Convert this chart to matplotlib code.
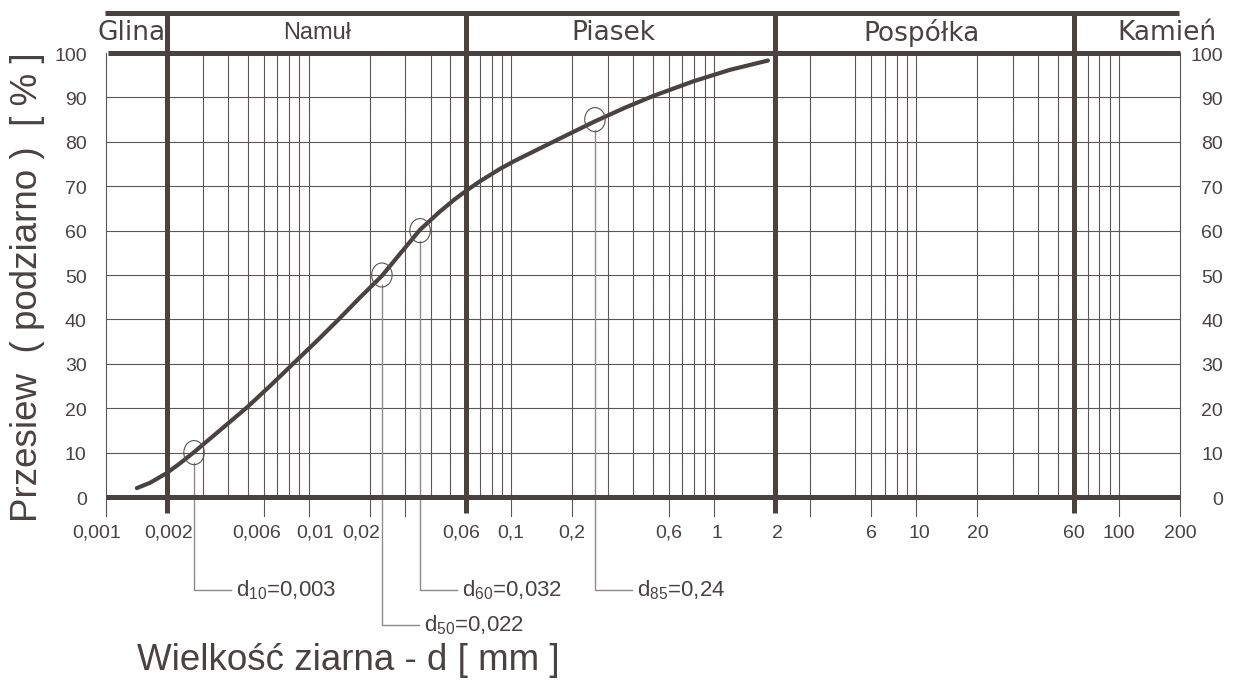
import matplotlib.pyplot as plt
import numpy as np
from matplotlib.path import Path
from matplotlib.transforms import Affine2D

plt.rcParams['font.family'] = ['Liberation Sans', 'DejaVu Sans']
plt.rcParams['mathtext.fontset'] = 'custom'
plt.rcParams['mathtext.rm'] = 'Liberation Sans'

# grain size distribution curve
size_mm = [0.00142, 0.00165, 0.00198, 0.00232, 0.00272, 0.00369, 0.00497, 0.00645,
           0.00838, 0.0109, 0.0140, 0.0179, 0.0230, 0.0283, 0.0355, 0.0445, 0.0528,
           0.0605, 0.0701, 0.0880, 0.104, 0.147, 0.202, 0.259, 0.361, 0.501, 0.790,
           1.20, 1.85]
passing = [2.0, 3.2, 5.3, 7.6, 10.1, 15.2, 20.2, 25.0,
           30.0, 35.0, 39.9, 44.9, 49.8, 54.8, 60.2, 64.3, 67.1,
           69.1, 71.1, 73.9, 75.7, 79.1, 82.2, 84.6, 87.6, 90.3, 93.6,
           96.2, 98.3]

# characteristic diameters
d_marker_x = [0.00272, 0.0230, 0.0355, 0.259]
d_marker_y = [10, 50, 60, 85]
d_labels = [r"d$_{10}$=0,003", r"d$_{50}$=0,022", r"d$_{60}$=0,032", r"d$_{85}$=0,24"]
d_label_row = [0, 1, 0, 0]

# fractions
fraction_names = ["Glina", "Namuł", "Piasek", "Pospółka", "Kamień"]
fraction_bounds = [0.002, 0.06, 2, 60]

# axis
x_tick_vals = [0.001, 0.002, 0.006, 0.01, 0.02, 0.06, 0.1, 0.2, 0.6, 1, 2, 6, 10, 20, 60, 100, 200]
x_tick_text = ["0,001", "0,002", "0,006", "0,01", "0,02", "0,06", "0,1", "0,2", "0,6", "1",
               "2", "6", "10", "20", "60", "100", "200"]
x_tick_nudge = [-7, 1, -5, 5, -6, -4, 0, 0, 0, 2, 2, 0, 2, 0, 0, 0, 0]  # points
x_short_ticks = [0.03, 3]
grid_x = [0.003, 0.004, 0.005, 0.006, 0.007, 0.008, 0.009, 0.01, 0.02, 0.03, 0.04, 0.05,
          0.07, 0.08, 0.09, 0.1, 0.2, 0.3, 0.4, 0.5, 0.6, 0.7, 0.8, 0.9, 1,
          3, 5, 6, 7, 8, 9, 10, 20, 30, 40, 50, 70, 80, 90, 100]
y_ticks = [0, 10, 20, 30, 40, 50, 60, 70, 80, 90, 100]

dark = '#4a4141'
grid_c = '#5e5656'
lead_c = '#8f8989'

W, H = 1234, 693
fig = plt.figure(figsize=(W / 100, H / 100), dpi=100)
ax = fig.add_axes([106 / W, 1 - 497 / H, 1074 / W, 444 / H])
ax.set_xscale('log')
ax.set_xlim(0.001, 200)
ax.set_ylim(0, 100)
ax.axis('off')

xmin, xmax = 0.001, 200
top_band = 109.0
tick_low = -4.2

# thin grid
for x in grid_x:
    ax.plot([x, x], [0, 100], color=grid_c, lw=0.8, zorder=1)
for y in y_ticks[1:-1]:
    ax.plot([xmin, xmax], [y, y], color=grid_c, lw=0.8, zorder=1)

# edges and ticks below the axis
for x in [xmin, xmax]:
    ax.plot([x, x], [tick_low, 100], color=grid_c, lw=0.8, clip_on=False, zorder=1)
for x in x_tick_vals[1:-1] + x_short_ticks:
    if x not in fraction_bounds:
        ax.plot([x, x], [tick_low, 0], color=grid_c, lw=0.8, clip_on=False, zorder=1)

# heavy frame lines
ax.plot([xmin, xmax], [0, 0], color=dark, lw=3.6, solid_capstyle='butt', clip_on=False, zorder=3)
ax.plot([xmin * 1.02, xmax], [100, 100], color=dark, lw=3.6, solid_capstyle='butt', clip_on=False, zorder=3)
ax.plot([xmin * 0.985, xmax * 0.985], [top_band, top_band], color=dark, lw=3.6,
        solid_capstyle='butt', clip_on=False, zorder=3)
for x in fraction_bounds:
    ax.plot([x, x], [-3.6, top_band], color=dark, lw=3.6, solid_capstyle='butt',
            clip_on=False, zorder=3)

# fraction names
band_y = 104.6
wide = dict(fontsize=19, family='DejaVu Sans', color=dark, va='center', clip_on=False)
ax.text(0.00196, band_y, fraction_names[0], ha='right', **wide)
ax.text(np.sqrt(0.002 * 0.06), band_y, fraction_names[1], ha='center', va='center', fontsize=17,
        family='Liberation Sans', color=dark, clip_on=False)
ax.text(0.32, band_y, fraction_names[2], ha='center', **wide)
ax.text(np.sqrt(2 * 60) * 0.97, band_y, fraction_names[3], ha='center', **wide)
ax.text(172, band_y, fraction_names[4], ha='center', **wide)

# y tick labels both sides
for y in y_ticks:
    ax.text(-0.018, y - 0.7, str(y), transform=ax.get_yaxis_transform(), ha='right', va='center',
            fontsize=14, color=dark)
    ax.text(1.040, y - 0.7, str(y), transform=ax.get_yaxis_transform(), ha='right', va='center',
            fontsize=14, color=dark)

# x tick labels
for x, t, n in zip(x_tick_vals, x_tick_text, x_tick_nudge):
    ax.annotate(t, (x, -8.2), xytext=(n, 0), textcoords='offset points', ha='center',
                va='center', fontsize=14, color=dark, annotation_clip=False)

# curve
ax.plot(size_mm, passing, color=dark, lw=3.0, solid_capstyle='round', solid_joinstyle='round',
        zorder=4)

# markers and leaders
ell = Path.unit_circle().transformed(Affine2D().scale(0.85, 1.0))
ax.scatter(d_marker_x, d_marker_y, s=300, marker=ell, facecolors='none', edgecolors='#5a5252',
           linewidths=0.8, zorder=5)
row_y = [-20.9, -28.8]
for x, y, lab, r in zip(d_marker_x, d_marker_y, d_labels, d_label_row):
    ly = row_y[r]
    x_end = x * 1.52
    ax.plot([x, x, x_end], [y - 2.3, ly, ly], color=lead_c, lw=1.0, clip_on=False, zorder=2)
    ax.text(x_end * 1.06, ly, lab, ha='left', va='center', fontsize=16, color=dark, clip_on=False)

# axis titles
fig.text(28 / W, 1 - 287 / H, "Przesiew  ( podziarno )  [ % ]", rotation=90, ha='center',
         va='center', fontsize=26.5, color=dark)
fig.text(348 / W, 1 - 660 / H, "Wielkość ziarna - d [ mm ]", ha='center', va='center',
         fontsize=26.5, color=dark)

fig.savefig('out.png', dpi=100)
